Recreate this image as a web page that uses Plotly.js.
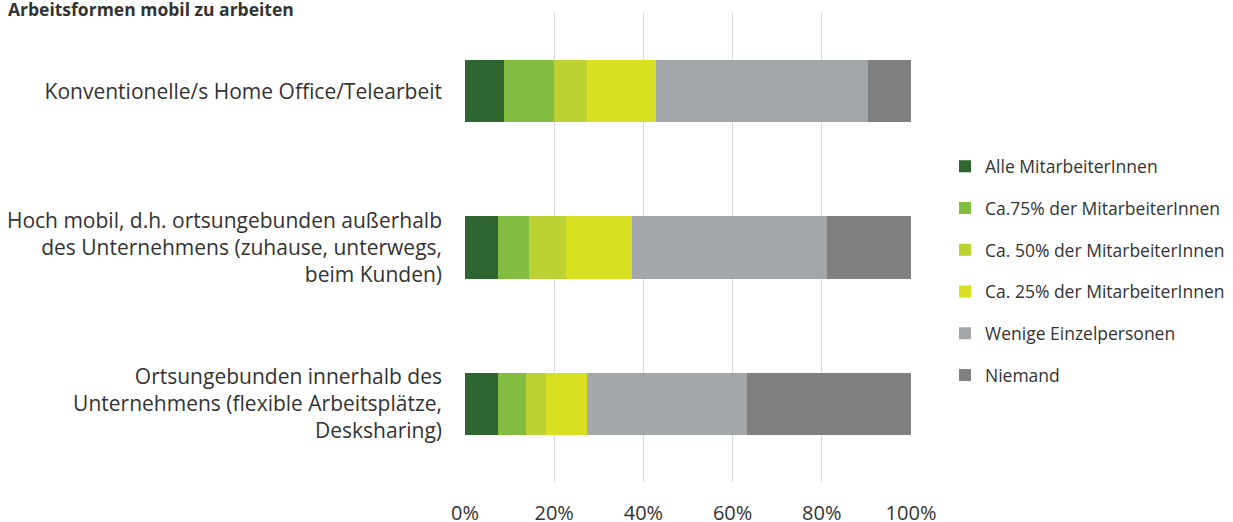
<!DOCTYPE html>
<html>
<head>
<meta charset="utf-8">
<script src="https://cdn.plot.ly/plotly-3.0.1.min.js"></script>
<style>html,body{margin:0;padding:0;background:#fff}#chart{width:1233px;height:522px}</style>
</head>
<body>
<div id="chart"></div>
<script>
const categories = [
  "Konventionelle/s Home Office/Telearbeit",
  "Hoch mobil, d.h. ortsungebunden außerhalb<br>des Unternehmens (zuhause, unterwegs,<br>beim Kunden)",
  "Ortsungebunden innerhalb des<br>Unternehmens (flexible Arbeitsplätze,<br>Desksharing)"
];
const seriesNames = [
  "Alle MitarbeiterInnen",
  "Ca.75% der MitarbeiterInnen",
  "Ca. 50% der MitarbeiterInnen",
  "Ca. 25% der MitarbeiterInnen",
  "Wenige Einzelpersonen",
  "Niemand"
];
const alle       = [8.7, 7.3, 7.3];
const ca75       = [11.2, 7.1, 6.4];
const ca50       = [7.5, 8.3, 4.4];
const ca25       = [15.4, 14.7, 9.2];
const wenige     = [47.6, 43.8, 36.0];
const niemand    = [9.6, 18.8, 36.7];
const seriesValues = [alle, ca75, ca50, ca25, wenige, niemand];
const colors = ["#2e6531", "#82bd41", "#bcd133", "#d8e021", "#a4a7a9", "#808080"];
const tickVals = [0, 20, 40, 60, 80, 100];
const tickText = ["0%", "20%", "40%", "60%", "80%", "100%"];

const W = 1233, H = 522;
const L = 465, R = W - 911, T = 13, B = H - 482;

const traces = seriesNames.map((name, i) => ({
  type: "bar",
  orientation: "h",
  name: name,
  x: seriesValues[i],
  y: categories,
  legendgroup: "g" + i,
  marker: {color: colors[i], line: {width: 0}},
  hoverinfo: "x+name"
}));

const layout = {
  width: W, height: H,
  margin: {l: L, r: R, t: T, b: B, pad: 0, autoexpand: false},
  paper_bgcolor: "#ffffff",
  plot_bgcolor: "#ffffff",
  barmode: "stack",
  bargap: 0.6,
  font: {family: "Open Sans, sans-serif", color: "#333333", size: 20},
  title: {
    text: "<b>Arbeitsformen mobil zu arbeiten</b>",
    font: {family: "Open Sans, sans-serif", size: 17.5, color: "#333333"},
    x: 8 / W, xanchor: "left", xref: "container",
    y: 1 - 10 / H, yanchor: "middle", yref: "container"
  },
  xaxis: {
    range: [0, 100],
    tickvals: tickVals,
    ticktext: tickText,
    showgrid: true,
    gridcolor: "#d9d9d9",
    gridwidth: 1,
    zeroline: false,
    showline: false,
    ticks: "",
    ticklabelstandoff: 17,
    tickfont: {size: 20, color: "#333333"},
    fixedrange: true
  },
  yaxis: {
    type: "category",
    autorange: "reversed",
    showgrid: false,
    zeroline: false,
    showline: false,
    ticks: "",
    ticklabelstandoff: 22,
    tickfont: {size: 21, color: "#333333"},
    fixedrange: true
  },
  legend: {
    x: (945 - L) / (W - L - R),
    xanchor: "left",
    y: 0.45,
    yanchor: "middle",
    traceorder: "grouped",
    tracegroupgap: 16,
    font: {size: 17.5, color: "#333333"},
    bgcolor: "rgba(0,0,0,0)",
    borderwidth: 0
  },
  showlegend: true
};

Plotly.newPlot("chart", traces, layout, {displayModeBar: false, staticPlot: true});
</script>
</body>
</html>
